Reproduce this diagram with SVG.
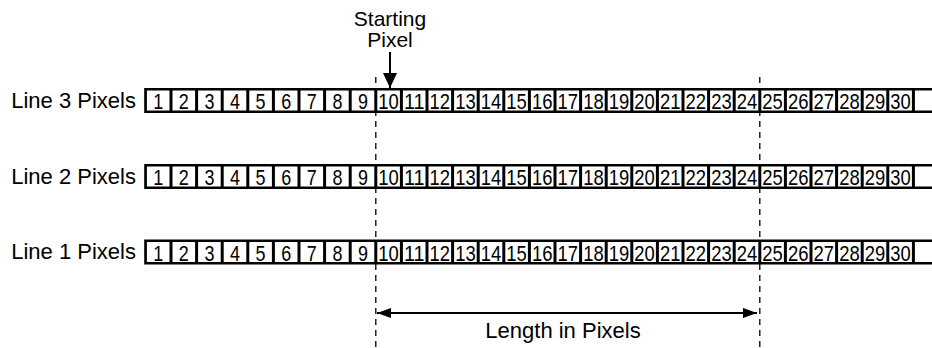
<svg xmlns="http://www.w3.org/2000/svg" width="932" height="348" viewBox="0 0 932 348">
<style>
.lbl{font-family:"Liberation Sans",Arial,sans-serif;font-size:22px;fill:#000}
.top{font-family:"Liberation Sans",Arial,sans-serif;font-size:21px;fill:#000;text-anchor:middle}
.n{font-family:"Liberation Sans",Arial,sans-serif;font-size:22px;fill:#000;text-anchor:middle}
.bar{fill:#000}
.cells{stroke:#fff;stroke-width:20;stroke-dasharray:22.6 3;fill:none}
.dash{stroke:#000;stroke-width:1.3;stroke-dasharray:6 5;fill:none}
.ln{stroke:#000;stroke-width:2;fill:none}
</style>
<defs>
<marker id="ah" viewBox="0 0 14 10" refX="14" refY="5" markerWidth="14" markerHeight="10" markerUnits="userSpaceOnUse" orient="auto-start-reverse">
<path d="M0,0 L14,5 L0,10 Z" fill="#000"/>
</marker>
<marker id="ahd" viewBox="0 0 15 14" refX="15" refY="7" markerWidth="15" markerHeight="14" markerUnits="userSpaceOnUse" orient="auto">
<path d="M0,0 L15,7 L0,14 Z" fill="#000"/>
</marker>
</defs>
<rect width="932" height="348" fill="#fff"/>

<g id="starting-pixel-label">
<text class="top" x="390" y="26">Starting</text>
<text class="top" x="390" y="47">Pixel</text>
</g>

<g id="line3">
<text class="lbl" x="136" y="108" text-anchor="end">Line 3 Pixels</text>
<rect class="bar" x="144.2" y="88" width="800" height="25"/>
<line class="cells" x1="146.9" y1="100.5" x2="940" y2="100.5"/>
<g class="n">
<text x="158.2" y="109" textLength="10" lengthAdjust="spacingAndGlyphs">1</text><text x="183.8" y="109" textLength="10" lengthAdjust="spacingAndGlyphs">2</text><text x="209.4" y="109" textLength="10" lengthAdjust="spacingAndGlyphs">3</text><text x="235" y="109" textLength="10" lengthAdjust="spacingAndGlyphs">4</text><text x="260.6" y="109" textLength="10" lengthAdjust="spacingAndGlyphs">5</text><text x="286.2" y="109" textLength="10" lengthAdjust="spacingAndGlyphs">6</text><text x="311.8" y="109" textLength="10" lengthAdjust="spacingAndGlyphs">7</text><text x="337.4" y="109" textLength="10" lengthAdjust="spacingAndGlyphs">8</text><text x="363" y="109" textLength="10" lengthAdjust="spacingAndGlyphs">9</text>
<text x="388.6" y="109" textLength="20.5" lengthAdjust="spacingAndGlyphs">10</text><text x="414.2" y="109" textLength="20.5" lengthAdjust="spacingAndGlyphs">11</text><text x="439.8" y="109" textLength="20.5" lengthAdjust="spacingAndGlyphs">12</text><text x="465.4" y="109" textLength="20.5" lengthAdjust="spacingAndGlyphs">13</text><text x="491" y="109" textLength="20.5" lengthAdjust="spacingAndGlyphs">14</text><text x="516.6" y="109" textLength="20.5" lengthAdjust="spacingAndGlyphs">15</text><text x="542.2" y="109" textLength="20.5" lengthAdjust="spacingAndGlyphs">16</text><text x="567.8" y="109" textLength="20.5" lengthAdjust="spacingAndGlyphs">17</text><text x="593.4" y="109" textLength="20.5" lengthAdjust="spacingAndGlyphs">18</text><text x="619" y="109" textLength="20.5" lengthAdjust="spacingAndGlyphs">19</text><text x="644.6" y="109" textLength="20.5" lengthAdjust="spacingAndGlyphs">20</text><text x="670.2" y="109" textLength="20.5" lengthAdjust="spacingAndGlyphs">21</text><text x="695.8" y="109" textLength="20.5" lengthAdjust="spacingAndGlyphs">22</text><text x="721.4" y="109" textLength="20.5" lengthAdjust="spacingAndGlyphs">23</text><text x="747" y="109" textLength="20.5" lengthAdjust="spacingAndGlyphs">24</text><text x="772.6" y="109" textLength="20.5" lengthAdjust="spacingAndGlyphs">25</text><text x="798.2" y="109" textLength="20.5" lengthAdjust="spacingAndGlyphs">26</text><text x="823.8" y="109" textLength="20.5" lengthAdjust="spacingAndGlyphs">27</text><text x="849.4" y="109" textLength="20.5" lengthAdjust="spacingAndGlyphs">28</text><text x="875" y="109" textLength="20.5" lengthAdjust="spacingAndGlyphs">29</text><text x="900.6" y="109" textLength="20.5" lengthAdjust="spacingAndGlyphs">30</text>
</g>
</g>

<g id="line2">
<text class="lbl" x="136" y="184" text-anchor="end">Line 2 Pixels</text>
<rect class="bar" x="144.2" y="164" width="800" height="25"/>
<line class="cells" x1="146.9" y1="176.5" x2="940" y2="176.5"/>
<g class="n">
<text x="158.2" y="185" textLength="10" lengthAdjust="spacingAndGlyphs">1</text><text x="183.8" y="185" textLength="10" lengthAdjust="spacingAndGlyphs">2</text><text x="209.4" y="185" textLength="10" lengthAdjust="spacingAndGlyphs">3</text><text x="235" y="185" textLength="10" lengthAdjust="spacingAndGlyphs">4</text><text x="260.6" y="185" textLength="10" lengthAdjust="spacingAndGlyphs">5</text><text x="286.2" y="185" textLength="10" lengthAdjust="spacingAndGlyphs">6</text><text x="311.8" y="185" textLength="10" lengthAdjust="spacingAndGlyphs">7</text><text x="337.4" y="185" textLength="10" lengthAdjust="spacingAndGlyphs">8</text><text x="363" y="185" textLength="10" lengthAdjust="spacingAndGlyphs">9</text>
<text x="388.6" y="185" textLength="20.5" lengthAdjust="spacingAndGlyphs">10</text><text x="414.2" y="185" textLength="20.5" lengthAdjust="spacingAndGlyphs">11</text><text x="439.8" y="185" textLength="20.5" lengthAdjust="spacingAndGlyphs">12</text><text x="465.4" y="185" textLength="20.5" lengthAdjust="spacingAndGlyphs">13</text><text x="491" y="185" textLength="20.5" lengthAdjust="spacingAndGlyphs">14</text><text x="516.6" y="185" textLength="20.5" lengthAdjust="spacingAndGlyphs">15</text><text x="542.2" y="185" textLength="20.5" lengthAdjust="spacingAndGlyphs">16</text><text x="567.8" y="185" textLength="20.5" lengthAdjust="spacingAndGlyphs">17</text><text x="593.4" y="185" textLength="20.5" lengthAdjust="spacingAndGlyphs">18</text><text x="619" y="185" textLength="20.5" lengthAdjust="spacingAndGlyphs">19</text><text x="644.6" y="185" textLength="20.5" lengthAdjust="spacingAndGlyphs">20</text><text x="670.2" y="185" textLength="20.5" lengthAdjust="spacingAndGlyphs">21</text><text x="695.8" y="185" textLength="20.5" lengthAdjust="spacingAndGlyphs">22</text><text x="721.4" y="185" textLength="20.5" lengthAdjust="spacingAndGlyphs">23</text><text x="747" y="185" textLength="20.5" lengthAdjust="spacingAndGlyphs">24</text><text x="772.6" y="185" textLength="20.5" lengthAdjust="spacingAndGlyphs">25</text><text x="798.2" y="185" textLength="20.5" lengthAdjust="spacingAndGlyphs">26</text><text x="823.8" y="185" textLength="20.5" lengthAdjust="spacingAndGlyphs">27</text><text x="849.4" y="185" textLength="20.5" lengthAdjust="spacingAndGlyphs">28</text><text x="875" y="185" textLength="20.5" lengthAdjust="spacingAndGlyphs">29</text><text x="900.6" y="185" textLength="20.5" lengthAdjust="spacingAndGlyphs">30</text>
</g>
</g>

<g id="line1">
<text class="lbl" x="136" y="259" text-anchor="end">Line 1 Pixels</text>
<rect class="bar" x="144.2" y="239.5" width="800" height="25"/>
<line class="cells" x1="146.9" y1="252" x2="940" y2="252"/>
<g class="n">
<text x="158.2" y="260.5" textLength="10" lengthAdjust="spacingAndGlyphs">1</text><text x="183.8" y="260.5" textLength="10" lengthAdjust="spacingAndGlyphs">2</text><text x="209.4" y="260.5" textLength="10" lengthAdjust="spacingAndGlyphs">3</text><text x="235" y="260.5" textLength="10" lengthAdjust="spacingAndGlyphs">4</text><text x="260.6" y="260.5" textLength="10" lengthAdjust="spacingAndGlyphs">5</text><text x="286.2" y="260.5" textLength="10" lengthAdjust="spacingAndGlyphs">6</text><text x="311.8" y="260.5" textLength="10" lengthAdjust="spacingAndGlyphs">7</text><text x="337.4" y="260.5" textLength="10" lengthAdjust="spacingAndGlyphs">8</text><text x="363" y="260.5" textLength="10" lengthAdjust="spacingAndGlyphs">9</text>
<text x="388.6" y="260.5" textLength="20.5" lengthAdjust="spacingAndGlyphs">10</text><text x="414.2" y="260.5" textLength="20.5" lengthAdjust="spacingAndGlyphs">11</text><text x="439.8" y="260.5" textLength="20.5" lengthAdjust="spacingAndGlyphs">12</text><text x="465.4" y="260.5" textLength="20.5" lengthAdjust="spacingAndGlyphs">13</text><text x="491" y="260.5" textLength="20.5" lengthAdjust="spacingAndGlyphs">14</text><text x="516.6" y="260.5" textLength="20.5" lengthAdjust="spacingAndGlyphs">15</text><text x="542.2" y="260.5" textLength="20.5" lengthAdjust="spacingAndGlyphs">16</text><text x="567.8" y="260.5" textLength="20.5" lengthAdjust="spacingAndGlyphs">17</text><text x="593.4" y="260.5" textLength="20.5" lengthAdjust="spacingAndGlyphs">18</text><text x="619" y="260.5" textLength="20.5" lengthAdjust="spacingAndGlyphs">19</text><text x="644.6" y="260.5" textLength="20.5" lengthAdjust="spacingAndGlyphs">20</text><text x="670.2" y="260.5" textLength="20.5" lengthAdjust="spacingAndGlyphs">21</text><text x="695.8" y="260.5" textLength="20.5" lengthAdjust="spacingAndGlyphs">22</text><text x="721.4" y="260.5" textLength="20.5" lengthAdjust="spacingAndGlyphs">23</text><text x="747" y="260.5" textLength="20.5" lengthAdjust="spacingAndGlyphs">24</text><text x="772.6" y="260.5" textLength="20.5" lengthAdjust="spacingAndGlyphs">25</text><text x="798.2" y="260.5" textLength="20.5" lengthAdjust="spacingAndGlyphs">26</text><text x="823.8" y="260.5" textLength="20.5" lengthAdjust="spacingAndGlyphs">27</text><text x="849.4" y="260.5" textLength="20.5" lengthAdjust="spacingAndGlyphs">28</text><text x="875" y="260.5" textLength="20.5" lengthAdjust="spacingAndGlyphs">29</text><text x="900.6" y="260.5" textLength="20.5" lengthAdjust="spacingAndGlyphs">30</text>
</g>
</g>

<g id="length-label">
<text class="lbl" x="563" y="338" text-anchor="middle">Length in Pixels</text>
</g>

<g id="connectors">
<line class="dash" x1="375.8" y1="77" x2="375.8" y2="348"/>
<line class="dash" x1="759.8" y1="77" x2="759.8" y2="348"/>
<line class="ln" x1="390" y1="52" x2="390" y2="88" marker-end="url(#ahd)"/>
<line class="ln" x1="377" y1="313" x2="757" y2="313" marker-start="url(#ah)" marker-end="url(#ah)"/>
</g>
</svg>
